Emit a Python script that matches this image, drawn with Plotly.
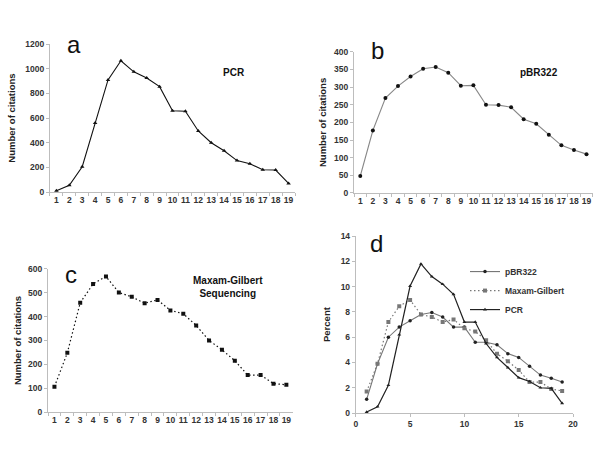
import plotly.graph_objects as go

years = list(range(1, 20))
year_labels = [str(y) for y in years]

pcr_counts = [10, 55, 205, 560, 910, 1065, 975, 925, 855, 660, 655, 495, 400, 335, 255, 230, 180, 178, 70]
pbr_counts = [48, 177, 269, 303, 330, 352, 357, 341, 304, 305, 250, 249, 243, 209, 196, 165, 135, 122, 110]
mg_counts = [106, 248, 458, 537, 568, 501, 483, 456, 470, 426, 412, 363, 300, 261, 215, 155, 155, 119, 114]

pbr_pct = [1.08, 3.9, 6.0, 6.8, 7.3, 7.8, 7.95, 7.6, 6.8, 6.8, 5.6, 5.6, 5.4, 4.7, 4.4, 3.7, 3.0, 2.75, 2.45]
mg_pct = [1.7, 3.9, 7.2, 8.45, 8.95, 7.8, 7.6, 7.2, 7.4, 6.7, 6.45, 5.75, 4.7, 4.1, 3.4, 2.45, 2.45, 1.9, 1.75]
pcr_pct = [0.08, 0.5, 2.2, 6.2, 10.05, 11.8, 10.8, 10.2, 9.4, 7.2, 7.2, 5.5, 4.4, 3.6, 2.8, 2.5, 2.0, 1.95, 0.77]

FONT = "Liberation Sans"
tickfont = dict(family=FONT, size=8.5, color="#333", weight="bold")
AX = "#bdbdbd"
DOT = "1.5px,2.5px"

fig = go.Figure()

# a
fig.add_trace(go.Scatter(x=year_labels, y=pcr_counts, mode="lines+markers", xaxis="x", yaxis="y",
                         line=dict(color="#111", width=1.1), marker=dict(symbol="triangle-up", size=4, color="#111"),
                         showlegend=False))
# b
fig.add_trace(go.Scatter(x=year_labels, y=pbr_counts, mode="lines+markers", xaxis="x2", yaxis="y2",
                         line=dict(color="#888", width=1.1), marker=dict(symbol="circle", size=4, color="#111"),
                         showlegend=False))
# c
fig.add_trace(go.Scatter(x=year_labels, y=mg_counts, mode="lines+markers", xaxis="x3", yaxis="y3",
                         line=dict(color="#111", width=1.2, dash=DOT), marker=dict(symbol="square", size=4, color="#111"),
                         showlegend=False))
# d
fig.add_trace(go.Scatter(x=years, y=pbr_pct, mode="lines+markers", xaxis="x4", yaxis="y4", name="pBR322",
                         line=dict(color="#777", width=1.1), marker=dict(symbol="circle", size=3.5, color="#222")))
fig.add_trace(go.Scatter(x=years, y=mg_pct, mode="lines+markers", xaxis="x4", yaxis="y4", name="Maxam-Gilbert",
                         line=dict(color="#777", width=1.2, dash=DOT), marker=dict(symbol="square", size=4, color="#777")))
fig.add_trace(go.Scatter(x=years, y=pcr_pct, mode="lines+markers", xaxis="x4", yaxis="y4", name="PCR",
                         line=dict(color="#222", width=1.2), marker=dict(symbol="triangle-up", size=3.5, color="#222")))

def catx(domain, anchor):
    return dict(domain=domain, anchor=anchor, type="category", tickson="boundaries", ticks="outside",
                ticklen=3, tickcolor=AX, showline=True, linecolor=AX, showgrid=False, zeroline=False,
                tickfont=tickfont, range=[-0.5, 18.5], tickangle=0, automargin=False)

def yax(domain, anchor, rng, dtick, title, standoff=8):
    return dict(domain=domain, anchor=anchor, range=rng, dtick=dtick, ticks="outside", ticklen=3,
                tickcolor=AX, showline=True, linecolor=AX, showgrid=False, zeroline=False,
                tickfont=tickfont, automargin=False,
                title=dict(text=title, font=dict(family=FONT, size=9.5, color="#222", weight="bold"),
                           standoff=standoff))

fig.update_layout(
    width=600, height=455, margin=dict(l=0, r=0, t=0, b=0, autoexpand=False),
    paper_bgcolor="white", plot_bgcolor="white",
    xaxis=catx([0.0833, 0.4917], "y"),
    yaxis=yax([0.578, 0.903], "x", [0, 1200], 200, "Number of citations"),
    xaxis2=catx([0.59, 0.988], "y2"),
    yaxis2=yax([0.576, 0.886], "x2", [0, 400], 50, "Number of citations", 5),
    xaxis3=catx([0.08, 0.488], "y3"),
    yaxis3=yax([0.0945, 0.409], "x3", [0, 600], 100, "Number of citations", 4),
    xaxis4=dict(domain=[0.593, 0.955], anchor="y4", range=[0, 20], dtick=5, ticks="outside", ticklen=3,
                tickcolor=AX, showline=True, linecolor=AX, showgrid=False, zeroline=False, tickfont=tickfont,
                automargin=False),
    yaxis4=yax([0.0923, 0.481], "x4", [0, 14], 2, "Percent"),
    legend=dict(x=0.775, y=0.435, xanchor="left", yanchor="top", bgcolor="rgba(0,0,0,0)",
                font=dict(family=FONT, size=8.5, color="#333", weight="bold"), itemwidth=30, tracegroupgap=0),
)

def label(x, y, text, size, bold=False):
    fig.add_annotation(x=x / 600, y=1 - y / 455, xref="paper", yref="paper", text=text, showarrow=False,
                       xanchor="center", yanchor="middle",
                       font=dict(family=FONT, size=size, color="#111", weight="bold" if bold else "normal"))

label(74, 45, "a", 24)
label(377, 50, "b", 24)
label(71, 274, "c", 24)
label(376, 243, "d", 24)
label(234, 72, "PCR", 10, True)
label(539, 72, "pBR322", 10, True)
label(228, 287, "Maxam-Gilbert<br>Sequencing", 10, True)

fig.write_html("out.html", config={"displayModeBar": False},
               post_script="document.body.style.margin='0';")
